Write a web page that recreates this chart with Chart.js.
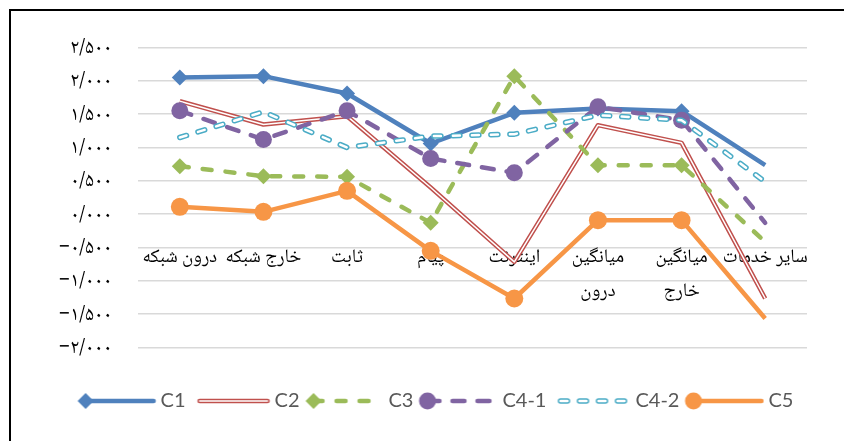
<!DOCTYPE html>
<html><head><meta charset="utf-8">
<script src="https://cdn.jsdelivr.net/npm/chart.js@4"></script>
<style>
html,body{margin:0;padding:0;background:#fff;}
#wrap{position:relative;width:844px;height:441px;overflow:hidden;background:#fff;}
#frame{position:absolute;left:9px;top:9px;width:900px;height:500px;border-left:2px solid #000;border-top:2px solid #000;pointer-events:none;}
canvas{position:absolute;left:0;top:0;}
</style></head><body>
<div id="wrap"><canvas id="c" width="844" height="441"></canvas><div id="frame"></div></div>
<script>
const categories = ['درون شبکه', 'خارج شبکه', 'ثابت', 'پیام', 'اینترنت', ['میانگین', 'درون'], ['میانگین', 'خارج'], 'سایر خدمات'];
const seriesNames = ['C1', 'C2', 'C3', 'C4-1', 'C4-2', 'C5'];
const c1  = [2.05, 2.07, 1.81, 1.06, 1.52, 1.585, 1.545, 0.735];
const c2  = [1.695, 1.345, 1.47, 0.40, -0.715, 1.335, 1.07, -1.265];
const c3  = [0.72, 0.57, 0.56, -0.13, 2.07, 0.735, 0.735, -0.415];
const c41 = [1.55, 1.12, 1.55, 0.835, 0.62, 1.61, 1.41, -0.13];
const c42 = [1.15, 1.535, 1.00, 1.17, 1.20, 1.485, 1.41, 0.485];
const c5  = [0.11, 0.035, 0.35, -0.55, -1.265, -0.09, -0.09, -1.565];
const yTickValues = [-2, -1.5, -1, -0.5, 0, 0.5, 1, 1.5, 2, 2.5];
const yTickLabels = ['−۲/۰۰۰', '−۱/۵۰۰', '−۱/۰۰۰', '−۰/۵۰۰', '۰/۰۰۰', '۰/۵۰۰', '۱/۰۰۰', '۱/۵۰۰', '۲/۰۰۰', '۲/۵۰۰'];

const BLUE = '#4f81bd', RED = '#c0504d', GREEN = '#9bbb59', PURPLE = '#8064a2', CYAN = '#4bacc6', ORANGE = '#f79646';
const persianFont = "'Noto Naskh Arabic', 'Noto Sans Arabic', 'DejaVu Sans', sans-serif";

// markers are shown on every category except the last one
const markerSize = (r) => (ctx) => (ctx.dataIndex === categories.length - 1 ? 0 : r);

const common = {borderJoinStyle: 'round', tension: 0, fill: false, pointBorderWidth: 0, pointHoverRadius: 0};
const datasets = [
  Object.assign({}, common, {label: seriesNames[0], data: c1, borderColor: BLUE, backgroundColor: BLUE, pointBackgroundColor: BLUE, borderWidth: 4.5, pointStyle: 'rectRot', pointRadius: markerSize(8), legendRadius: 8, order: 12}),
  Object.assign({}, common, {label: seriesNames[1], data: c2, borderColor: RED, backgroundColor: RED, borderWidth: 4.5, pointRadius: 0, legendRadius: 0, order: 11, inner: '#ffffff', innerWidth: 1.5}),
  Object.assign({}, common, {label: '_inner', data: c2, borderColor: '#ffffff', borderWidth: 1.5, pointRadius: 0, order: 10}),
  Object.assign({}, common, {label: seriesNames[2], data: c3, borderColor: GREEN, backgroundColor: GREEN, pointBackgroundColor: GREEN, borderWidth: 4.5, borderDash: [9, 14], borderCapStyle: 'round', pointStyle: 'rectRot', pointRadius: markerSize(8), legendRadius: 8, order: 9}),
  Object.assign({}, common, {label: seriesNames[3], data: c41, borderColor: PURPLE, backgroundColor: PURPLE, pointBackgroundColor: PURPLE, borderWidth: 4.5, borderDash: [12, 13], borderCapStyle: 'round', pointStyle: 'circle', pointRadius: markerSize(8.5), legendRadius: 8.5, order: 8}),
  Object.assign({}, common, {label: seriesNames[4], data: c42, borderColor: CYAN, backgroundColor: CYAN, borderWidth: 5.5, borderDash: [7, 12], borderCapStyle: 'round', pointRadius: 0, legendRadius: 0, order: 7, inner: '#ffffff', innerWidth: 2.5}),
  Object.assign({}, common, {label: '_inner', data: c42, borderColor: '#ffffff', borderWidth: 2.5, borderDash: [7, 12], borderCapStyle: 'round', pointRadius: 0, order: 6}),
  Object.assign({}, common, {label: seriesNames[5], data: c5, borderColor: ORANGE, backgroundColor: ORANGE, pointBackgroundColor: ORANGE, borderWidth: 4.5, pointStyle: 'circle', pointRadius: markerSize(9), legendRadius: 8.5, order: 5})
];

function legendSymbol(ds) {
  const cv = document.createElement('canvas');
  cv.width = 84; cv.height = 22;
  const g = cv.getContext('2d');
  const y = 11, x0 = 13, x1 = 81;
  g.lineCap = 'round';
  g.strokeStyle = ds.borderColor; g.lineWidth = ds.borderWidth;
  g.setLineDash(ds.borderDash || []);
  g.beginPath(); g.moveTo(x0, y); g.lineTo(x1, y); g.stroke();
  if (ds.inner) {
    g.strokeStyle = ds.inner; g.lineWidth = ds.innerWidth;
    g.beginPath(); g.moveTo(x0, y); g.lineTo(x1, y); g.stroke();
  }
  g.setLineDash([]);
  const r = ds.legendRadius || 0;
  if (r > 0) {
    g.fillStyle = ds.borderColor;
    g.beginPath();
    if (ds.pointStyle === 'rectRot') {
      g.moveTo(x0 - r, y); g.lineTo(x0, y - r); g.lineTo(x0 + r, y); g.lineTo(x0, y + r); g.closePath();
    } else {
      g.arc(x0, y, r, 0, Math.PI * 2);
    }
    g.fill();
  }
  return cv;
}

new Chart(document.getElementById('c'), {
  type: 'line',
  data: {labels: categories, datasets: datasets},
  options: {
    responsive: false,
    animation: false,
    events: [],
    layout: {padding: {left: 28, right: 0, top: 47.5, bottom: 20}},
    scales: {
      x: {
        type: 'category',
        offset: true,
        position: {y: -0.5},
        grid: {display: false},
        border: {display: false},
        ticks: {padding: -13, color: '#000', maxRotation: 0, autoSkip: false,
                font: {family: persianFont, size: 19, lineHeight: '34px'}}
      },
      y: {
        min: -2, max: 2.5,
        afterFit: (s) => { s.width = 110; },
        grid: {color: '#d9d9d9', lineWidth: 1.5, drawTicks: false},
        border: {display: false},
        ticks: {stepSize: 0.5, padding: 26, labelOffset: 3, color: '#000',
                font: {family: persianFont, size: 20},
                callback: (v) => { const i = yTickValues.findIndex(t => Math.abs(t - v) < 1e-9); return i >= 0 ? yTickLabels[i] : ''; }}
      },
      yr: {
        type: 'linear', position: 'right', display: true,
        afterFit: (s) => { s.width = 37; },
        grid: {display: false}, border: {display: false}, ticks: {display: false}
      }
    },
    plugins: {
      tooltip: {enabled: false},
      legend: {
        position: 'bottom',
        align: 'center',
        title: {display: true, text: '', font: {size: 1, lineHeight: 1}, padding: {top: 35.5, bottom: 0}},
        labels: {
          usePointStyle: true,
          pointStyleWidth: 72,
          padding: 7,
          color: '#595959',
          font: {family: "Lato, 'Open Sans', sans-serif", size: 20},
          generateLabels: (chart) => chart.data.datasets
            .map((ds, i) => ({ds, i}))
            .filter(o => o.ds.label !== '_inner')
            .map(o => ({text: o.ds.label, datasetIndex: o.i, pointStyle: legendSymbol(o.ds), fillStyle: o.ds.borderColor, strokeStyle: o.ds.borderColor, lineWidth: 0, hidden: false, fontColor: '#595959'}))
        }
      }
    }
  }
});
</script>
</body></html>
